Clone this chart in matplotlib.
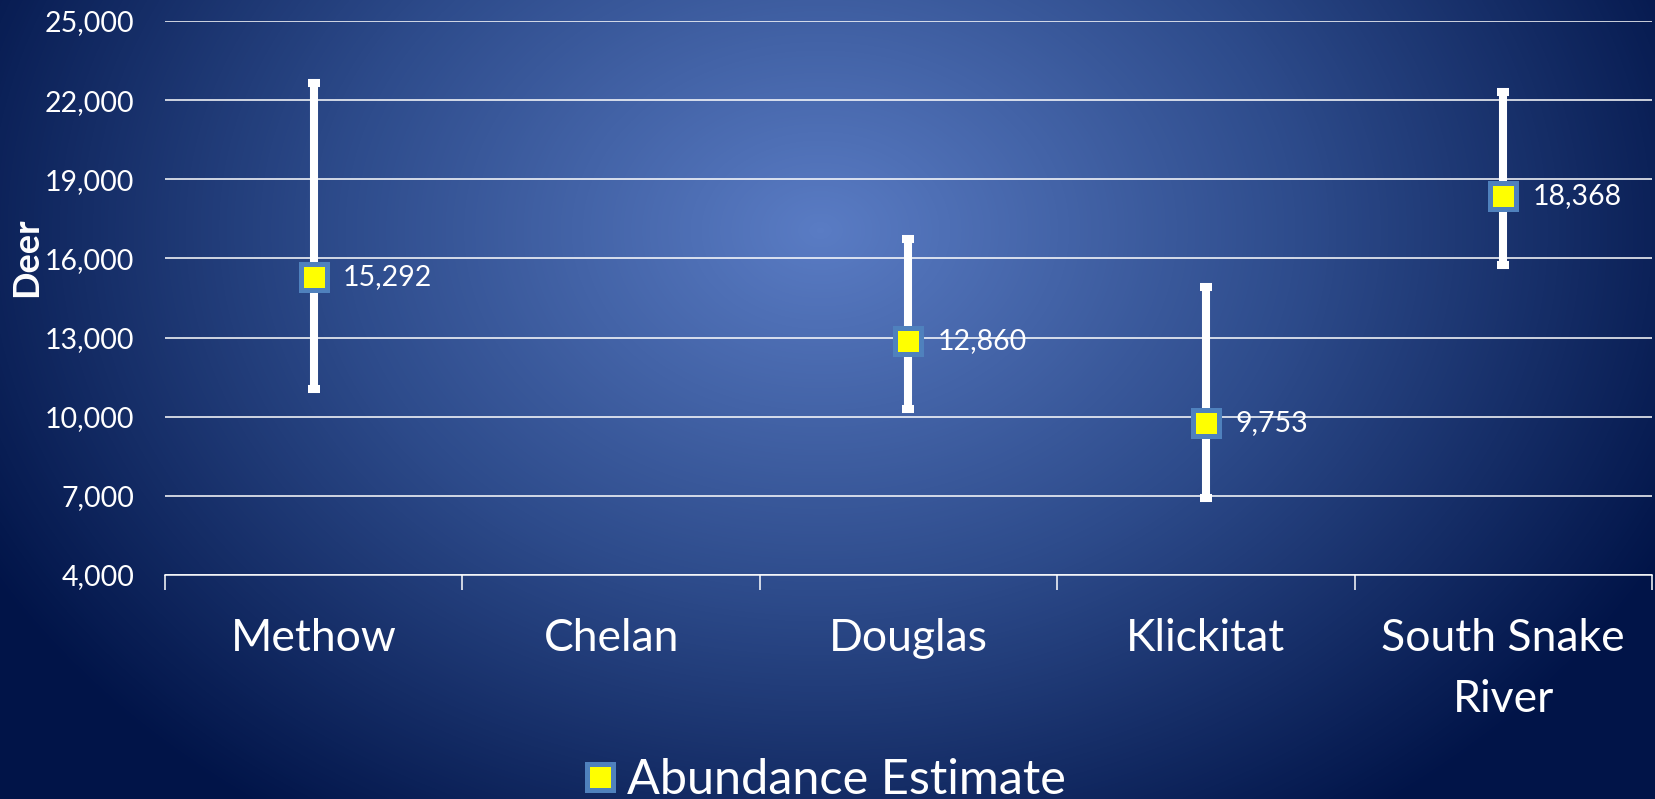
import matplotlib.pyplot as plt
import matplotlib.ticker as ticker
from matplotlib.colors import LinearSegmentedColormap
from matplotlib.lines import Line2D
import numpy as np

plt.rcParams['font.family'] = ['Lato', 'DejaVu Sans']

# Data
categories = ['Methow', 'Chelan', 'Douglas', 'Klickitat', 'South Snake\nRiver']
estimates = [15292, np.nan, 12860, 9753, 18368]
lower = [11050, np.nan, 10300, 6930, 15750]
upper = [22650, np.nan, 16730, 14930, 22300]
labels = ['15,292', '', '12,860', '9,753', '18,368']
y_ticks = [4000, 7000, 10000, 13000, 16000, 19000, 22000, 25000]

W, H = 1656, 799
fig = plt.figure(figsize=(W / 100, H / 100), dpi=100)

# Radial gradient background
bg = fig.add_axes([0, 0, 1, 1], zorder=-1)
xx, yy = np.meshgrid(np.arange(W), np.arange(H))
d = np.sqrt(((xx - 820) / 950) ** 2 + ((yy - 230) / 720) ** 2)
d = np.clip(d, 0, 1)
cmap = LinearSegmentedColormap.from_list(
    'bg', [(0.0, '#5a7cc4'), (0.5, '#2e4c8c'), (1.0, '#011448')])
bg.imshow(d, cmap=cmap, vmin=0, vmax=1, aspect='auto', interpolation='bilinear')
bg.axis('off')

left, right, top, bottom = 165, 1652, 21, 575
ax = fig.add_axes([left / W, 1 - bottom / H, (right - left) / W, (bottom - top) / H])
ax.set_facecolor('none')

x = np.arange(len(categories))
est = np.array(estimates)
lo = np.array(lower)
hi = np.array(upper)

ax.errorbar(x, est, yerr=[est - lo, hi - est], fmt='none', ecolor='white',
            elinewidth=5.8, capsize=4.3, capthick=5.8, zorder=3)
ax.plot(x, est, linestyle='none', marker='s', markersize=18.5,
        markerfacecolor='#ffff00', markeredgecolor='#4f81bd',
        markeredgewidth=3.6, zorder=4)

for xi, yi, lab in zip(x, est, labels):
    if np.isnan(yi):
        continue
    ax.annotate(lab, (xi, yi), xytext=(21, 0), textcoords='offset points',
                color='white', fontsize=20.5, va='center', ha='left', zorder=5)

ax.set_xlim(-0.5, len(categories) - 0.5)
ax.set_ylim(4000, 25000)
ax.set_yticks(y_ticks)
ax.yaxis.set_major_formatter(ticker.FuncFormatter(lambda v, _: f'{v:,.0f}'))
ax.tick_params(axis='y', length=0, pad=22, labelsize=20.5, colors='white')

ax.set_xticks(x)
ax.set_xticklabels(categories, fontsize=32, color='white', linespacing=1.6)
ax.set_xticks(np.arange(-0.5, len(categories)), minor=True)
ax.tick_params(axis='x', which='major', length=0, pad=31)
ax.tick_params(axis='x', which='minor', length=11, width=1.1, color='white', direction='out')

ax.grid(axis='y', color='white', linewidth=1.1)
ax.set_axisbelow(True)
for s in ['left', 'right', 'top']:
    ax.spines[s].set_visible(False)
ax.spines['bottom'].set_color('white')
ax.spines['bottom'].set_linewidth(1.1)

fig.text(27 / W, 1 - 257 / H, 'Deer', rotation=90, color='white', fontsize=26,
         fontweight='bold', ha='center', va='center')

handle = Line2D([], [], linestyle='none', marker='s', markersize=18.5,
                markerfacecolor='#ffff00', markeredgecolor='#4f81bd',
                markeredgewidth=3.6)
fig.legend([handle], ['Abundance Estimate'], loc='center',
           bbox_to_anchor=(823 / W, 1 - 780 / H), frameon=False, fontsize=35,
           labelcolor='white', handlelength=0.8, handletextpad=0.15,
           borderpad=0, borderaxespad=0)

fig.savefig('out.png', dpi=100)
